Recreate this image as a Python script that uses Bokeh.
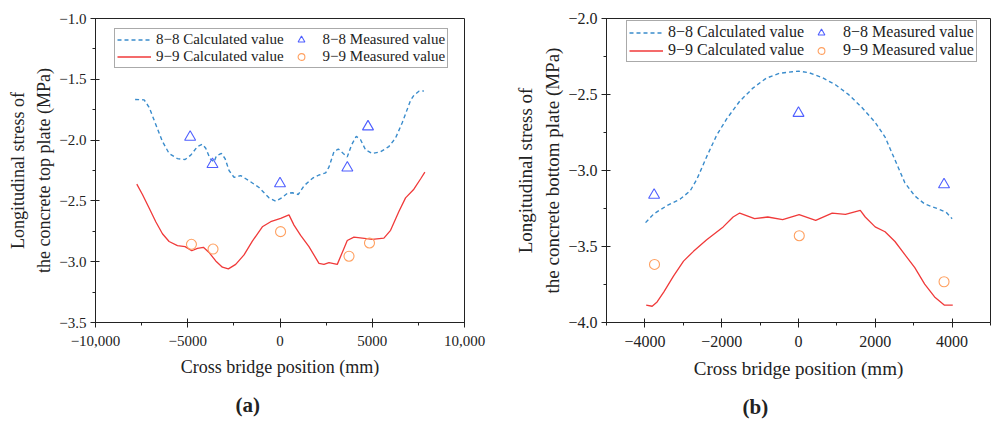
from bokeh.plotting import figure
from bokeh.models import Legend, LegendItem, FixedTicker, Title
from bokeh.layouts import row
from bokeh.embed import file_html
from bokeh.resources import INLINE

# ---------------- data: panel (a) top plate ----------------
a_calc88_x = [-7852, -7364, -7094, -6733, -6372, -6011, -5559, -5144, -4837, -4476, -4206, -4025,
              -3791, -3574, -3448, -3177, -2978, -2762, -2491, -2130, -1679, -1137, -596, -235,
              90, 397, 668, 993, 1300, 1751, 2112, 2473, 2653, 2924, 3159, 3430, 3646, 3881,
              4133, 4368, 4639, 5000, 5451, 5902, 6263, 6624, 7076, 7256, 7527, 7798]
a_calc88_y = [-1.666, -1.669, -1.730, -1.871, -2.011, -2.110, -2.152, -2.160, -2.124, -2.053, -2.034,
              -2.067, -2.152, -2.180, -2.129, -2.110, -2.152, -2.250, -2.306, -2.292, -2.334, -2.390,
              -2.475, -2.503, -2.475, -2.438, -2.433, -2.447, -2.376, -2.315, -2.287, -2.270, -2.222,
              -2.096, -2.073, -2.110, -2.138, -2.039, -1.969, -1.997, -2.081, -2.110, -2.096, -2.053,
              -1.983, -1.857, -1.674, -1.632, -1.598, -1.596]
a_calc99_x = [-7762, -7455, -7094, -6733, -6372, -6011, -5559, -5144, -4783, -4476, -4152, -3845,
              -3484, -3123, -2798, -2401, -1949, -1498, -957, -505, 36, 487, 758, 1119, 1570, 2112,
              2383, 2653, 3105, 3375, 3646, 4007, 4458, 5000, 5632, 5993, 6444, 6805, 7256, 7617, 7852]
a_calc99_y = [-2.362, -2.447, -2.559, -2.671, -2.770, -2.834, -2.868, -2.876, -2.910, -2.890, -2.882,
              -2.924, -2.994, -3.045, -3.059, -3.022, -2.944, -2.831, -2.713, -2.671, -2.643, -2.615,
              -2.699, -2.784, -2.876, -3.014, -3.022, -3.008, -3.022, -2.924, -2.826, -2.798, -2.806,
              -2.817, -2.806, -2.742, -2.587, -2.475, -2.404, -2.320, -2.264]
a_meas88_x = [-4870, -3660, 0, 3650, 4770]
a_meas88_y = [-1.975, -2.199, -2.357, -2.228, -1.890]
a_meas99_x = [-4800, -3630, 30, 3740, 4850]
a_meas99_y = [-2.857, -2.896, -2.753, -2.955, -2.846]

# ---------------- data: panel (b) bottom plate ----------------
b_calc88_x = [-3983, -3768, -3424, -3080, -2821, -2649, -2391, -2133, -1875, -1531, -1187, -843,
              -499, -155, 0, 275, 619, 963, 1308, 1652, 1996, 2254, 2512, 2770, 3028, 3286, 3630,
              3845, 4000]
b_calc88_y = [-3.343, -3.285, -3.231, -3.188, -3.134, -3.059, -2.909, -2.769, -2.662, -2.544, -2.458,
              -2.393, -2.361, -2.350, -2.346, -2.357, -2.389, -2.436, -2.501, -2.586, -2.683, -2.780,
              -2.930, -3.081, -3.167, -3.220, -3.252, -3.274, -3.317]
b_calc99_x = [-3966, -3811, -3682, -3510, -3252, -2994, -2735, -2391, -1961, -1703, -1531, -1144,
              -800, -413, 17, 447, 877, 1222, 1609, 1738, 1996, 2254, 2512, 2770, 3028, 3286, 3544,
              3802, 4017]
b_calc99_y = [-3.886, -3.893, -3.865, -3.800, -3.693, -3.596, -3.532, -3.456, -3.371, -3.306, -3.280,
              -3.317, -3.306, -3.323, -3.291, -3.328, -3.280, -3.289, -3.263, -3.306, -3.371, -3.403,
              -3.467, -3.553, -3.639, -3.747, -3.832, -3.886, -3.886]
b_meas88_x = [-3760, 0, 3790]
b_meas88_y = [-3.162, -2.623, -3.093]
b_meas99_x = [-3750, 20, 3790]
b_meas99_y = [-3.618, -3.429, -3.732]

# ---------------- ticks ----------------
a_xticks = [-10000, -5000, 0, 5000, 10000]
a_xlabels = ["\u221210,000", "\u22125000", "0", "5000", "10,000"]
a_xminor = [-7500, -2500, 2500, 7500]
a_yticks = [-3.5, -3.0, -2.5, -2.0, -1.5, -1.0]
a_yminor = [-3.25, -2.75, -2.25, -1.75, -1.25]
b_xticks = [-4000, -2000, 0, 2000, 4000]
b_xlabels = ["\u22124000", "\u22122000", "0", "2000", "4000"]
b_xminor = [-5000, -3000, -1000, 1000, 3000, 5000]
b_yticks = [-4.0, -3.5, -3.0, -2.5, -2.0]
b_yminor = [-3.75, -3.25, -2.75, -2.25]

legend_labels = ["8\u22128 Calculated value", "9\u22129 Calculated value",
                 "8\u22128 Measured value", "9\u22129 Measured value"]

FONT = "Liberation Serif"
C88 = "#3a8ccc"
C99 = "#f03a3a"
CTRI = "#4f5fff"
CCIR = "#ffa060"
INK = "#222222"

FRAME_H = 304
TOP = 18
BOTTOM = 60


def fmt(v):
    return ("\u2212" if v < 0 else "") + "%.1f" % abs(v)


def make(xr, yr, xt, xl, xm, yt, ym, ylabel, frame_w, b_left, b_right, fs,
         cx, cy, mx, my, mx2, my2, legend_loc, tag, tag_off):
    p = figure(frame_width=frame_w, frame_height=FRAME_H, x_range=xr, y_range=yr,
               output_backend="svg", toolbar_location=None,
               min_border_left=b_left, min_border_right=b_right,
               min_border_top=TOP, min_border_bottom=BOTTOM)
    p.grid.visible = False
    p.outline_line_color = INK
    p.outline_line_width = 1
    p.background_fill_color = "white"
    p.border_fill_color = "white"

    p.xaxis.ticker = FixedTicker(ticks=xt, minor_ticks=xm)
    p.xaxis.major_label_overrides = {t: l for t, l in zip(xt, xl)}
    p.yaxis.ticker = FixedTicker(ticks=yt, minor_ticks=ym)
    p.yaxis.major_label_overrides = {t: fmt(t) for t in yt}
    for ax in (p.xaxis, p.yaxis):
        ax.axis_line_color = INK
        ax.major_tick_line_color = INK
        ax.minor_tick_line_color = INK
        ax.major_tick_in = 4
        ax.major_tick_out = 5
        ax.minor_tick_in = 0
        ax.minor_tick_out = 3
        ax.major_label_text_font = FONT
        ax.major_label_text_font_size = "%dpx" % fs
        ax.major_label_text_color = INK
        ax.axis_label_text_font = FONT
        ax.axis_label_text_font_size = "%dpx" % (fs + 3)
        ax.axis_label_text_font_style = "normal"
        ax.axis_label_text_color = INK
    p.xaxis.axis_label = "Cross bridge position (mm)"
    p.xaxis.axis_label_standoff = 8
    p.xaxis.major_label_standoff = 8
    p.yaxis.axis_label = ylabel
    p.yaxis.axis_label_standoff = 2
    p.yaxis.axis_label_text_line_height = 1.3
    p.yaxis.major_label_standoff = 4

    r1 = p.line(cx[0], cx[1], line_color=C88, line_width=1.4, line_dash="4 3")
    r2 = p.line(cy[0], cy[1], line_color=C99, line_width=1.3)
    r3 = p.scatter(mx, my, marker="triangle", size=11, fill_color=None,
                   line_color=CTRI, line_width=1.1)
    r4 = p.scatter(mx2, my2, marker="circle", size=10, fill_color=None,
                   line_color=CCIR, line_width=1.1)
    leg = Legend(items=[LegendItem(label=legend_labels[0], renderers=[r1]),
                        LegendItem(label=legend_labels[1], renderers=[r2]),
                        LegendItem(label=legend_labels[2], renderers=[r3]),
                        LegendItem(label=legend_labels[3], renderers=[r4])],
                 ncols=2, location=legend_loc)
    leg.label_text_font = FONT
    leg.label_text_font_size = "%dpx" % fs
    leg.label_text_color = INK
    leg.glyph_width = 34
    leg.glyph_height = 17
    leg.label_height = 17
    leg.label_standoff = 5
    leg.spacing = 0
    leg.padding = 2
    leg.margin = 0
    leg.border_line_color = "#555555"
    leg.border_line_width = 1
    leg.background_fill_alpha = 1
    p.add_layout(leg, "center")

    p.add_layout(Title(text=tag, align="left", offset=tag_off, standoff=22,
                       text_font=FONT, text_font_size="21px", text_font_style="bold",
                       text_color=INK), "below")
    return p


p1 = make((-10000, 10000), (-3.5, -1.0), a_xticks, a_xlabels, a_xminor, a_yticks, a_yminor,
          "Longitudinal stress of\nthe concrete top plate (MPa)",
          369, 95, 36, 15,
          (a_calc88_x, a_calc88_y), (a_calc99_x, a_calc99_y),
          a_meas88_x, a_meas88_y, a_meas99_x, a_meas99_y,
          (19, 254), "(a)", 140)
p2 = make((-5000, 5000), (-4.0, -2.0), b_xticks, b_xlabels, b_xminor, b_yticks, b_yminor,
          "Longitudinal stress of\nthe concrete bottom plate (MPa)",
          384, 106, 1, 16,
          (b_calc88_x, b_calc88_y), (b_calc99_x, b_calc99_y),
          b_meas88_x, b_meas88_y, b_meas99_x, b_meas99_y,
          (20, 260), "(b)", 136)

layout = row(p1, p2)
open("out.html", "w").write(file_html(layout, INLINE))
